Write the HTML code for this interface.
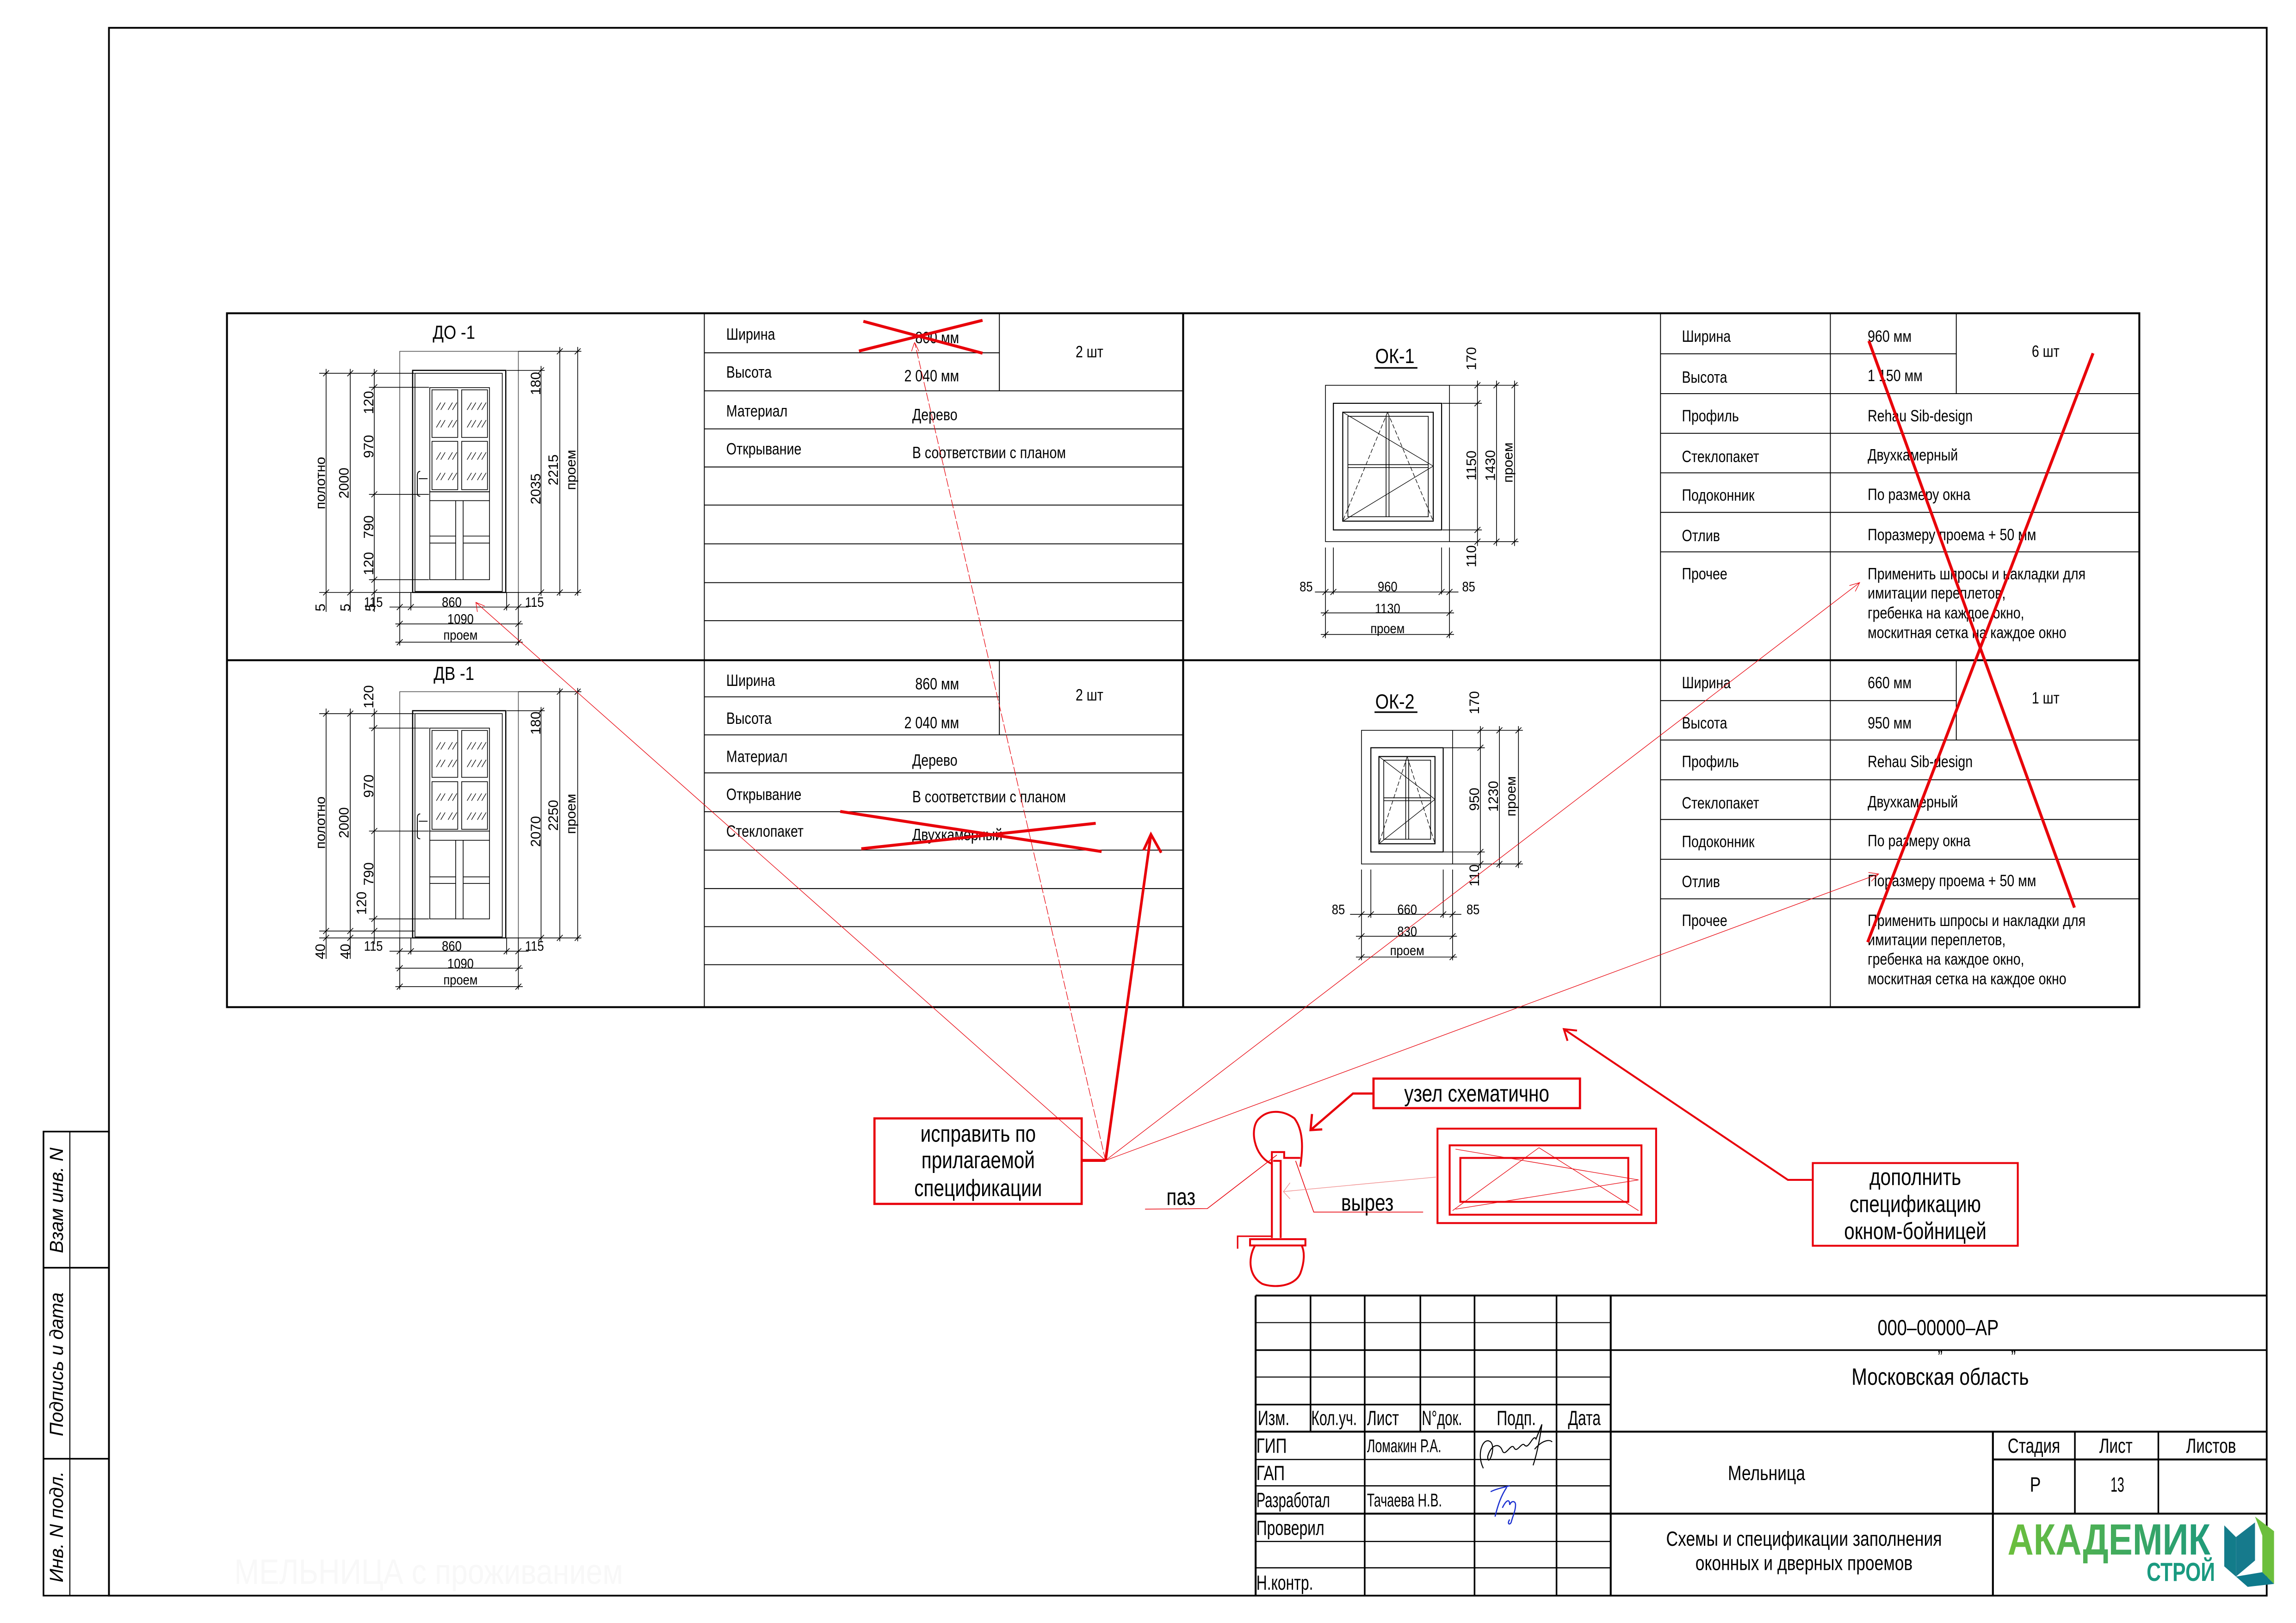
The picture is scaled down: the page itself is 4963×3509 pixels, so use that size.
<!DOCTYPE html>
<html><head><meta charset="utf-8"><style>
html,body{margin:0;padding:0;background:#fff}
svg{display:block}
text{font-family:"Liberation Sans",sans-serif;fill:#000}
.t{font-size:11px}
.d{font-size:9.5px}
.g{font-size:13px}
.a{font-size:15px}
</style></head><body>
<svg width="4963" height="3509" viewBox="0 0 1568 1108.7" preserveAspectRatio="none" xmlns="http://www.w3.org/2000/svg">
<rect x="0" y="0" width="1568" height="1108.7" fill="#fff"/>
<!-- frame -->
<g fill="none" stroke="#000">
<rect x="74.4" y="19" width="1473.6" height="1071" stroke-width="1.2"/>
<rect x="29.7" y="773" width="44.7" height="317" stroke-width="1.1"/>
<line x1="47.7" y1="773" x2="47.7" y2="1090" stroke-width="0.7"/>
<line x1="29.7" y1="866" x2="74.4" y2="866" stroke-width="1.1"/>
<line x1="29.7" y1="996.5" x2="74.4" y2="996.5" stroke-width="1.1"/>
</g>
<g font-style="italic">
<text transform="matrix(0,-1,1,0,43,820)" text-anchor="middle" font-size="13">Взам  инв.  N</text>
<text transform="matrix(0,-1,1,0,43,932)" text-anchor="middle" font-size="13">Подпись  и  дата</text>
<text transform="matrix(0,-1,1,0,43,1043)" text-anchor="middle" font-size="13">Инв.  N  подл.</text>
</g>
<text transform="matrix(0.85,0,0,1,160,1082)" font-size="24" style="fill:#f8f8f8">МЕЛЬНИЦА с проживанием</text>

<!-- main table -->
<g fill="none" stroke="#000">
<rect x="155" y="214" width="1306" height="474" stroke-width="1.3"/>
<line x1="155" y1="451" x2="1461" y2="451" stroke-width="1.3"/>
<line x1="808" y1="214" x2="808" y2="688" stroke-width="1.3"/>
<g stroke-width="0.6">
<line x1="481" y1="214" x2="481" y2="688"/>
<line x1="1134" y1="214" x2="1134" y2="688"/>
<line x1="1250" y1="214" x2="1250" y2="688"/>
<line x1="682.5" y1="214" x2="682.5" y2="267"/>
<line x1="682.5" y1="451" x2="682.5" y2="502"/>
<line x1="1336" y1="214" x2="1336" y2="269"/>
<line x1="1336" y1="451" x2="1336" y2="505.5"/>
<line x1="481" y1="241" x2="682.5" y2="241"/>
<line x1="481" y1="267" x2="808" y2="267"/>
<line x1="481" y1="293" x2="808" y2="293"/>
<line x1="481" y1="319" x2="808" y2="319"/>
<line x1="481" y1="345" x2="808" y2="345"/>
<line x1="481" y1="371.5" x2="808" y2="371.5"/>
<line x1="481" y1="398" x2="808" y2="398"/>
<line x1="481" y1="424" x2="808" y2="424"/>
<line x1="481" y1="476" x2="682.5" y2="476"/>
<line x1="481" y1="502" x2="808" y2="502"/>
<line x1="481" y1="528" x2="808" y2="528"/>
<line x1="481" y1="554.5" x2="808" y2="554.5"/>
<line x1="481" y1="580.7" x2="808" y2="580.7"/>
<line x1="481" y1="607" x2="808" y2="607"/>
<line x1="481" y1="633" x2="808" y2="633"/>
<line x1="481" y1="659" x2="808" y2="659"/>
<line x1="1134" y1="241.7" x2="1336" y2="241.7"/>
<line x1="1134" y1="268.9" x2="1461" y2="268.9"/>
<line x1="1134" y1="296" x2="1461" y2="296"/>
<line x1="1134" y1="323" x2="1461" y2="323"/>
<line x1="1134" y1="350" x2="1461" y2="350"/>
<line x1="1134" y1="377" x2="1461" y2="377"/>
<line x1="1134" y1="478.6" x2="1336" y2="478.6"/>
<line x1="1134" y1="505.5" x2="1461" y2="505.5"/>
<line x1="1134" y1="532.7" x2="1461" y2="532.7"/>
<line x1="1134" y1="559.8" x2="1461" y2="559.8"/>
<line x1="1134" y1="587" x2="1461" y2="587"/>
<line x1="1134" y1="614" x2="1461" y2="614"/>
</g></g>

<!-- left table text -->
<g class="t">
<text transform="matrix(0.82,0,0,1,496,232)">Ширина</text>
<text transform="matrix(0.82,0,0,1,655,234.5)" text-anchor="end">800  мм</text>
<text transform="matrix(0.82,0,0,1,496,258)">Высота</text>
<text transform="matrix(0.82,0,0,1,655,260.5)" text-anchor="end">2 040  мм</text>
<text transform="matrix(0.82,0,0,1,744,244)" text-anchor="middle">2 шт</text>
<text transform="matrix(0.82,0,0,1,496,284.5)">Материал</text>
<text transform="matrix(0.82,0,0,1,623,287)">Дерево</text>
<text transform="matrix(0.82,0,0,1,496,310.5)">Открывание</text>
<text transform="matrix(0.82,0,0,1,623,313)">В соответствии с планом</text>

<text transform="matrix(0.82,0,0,1,496,468.5)">Ширина</text>
<text transform="matrix(0.82,0,0,1,655,471)" text-anchor="end">860  мм</text>
<text transform="matrix(0.82,0,0,1,496,494.5)">Высота</text>
<text transform="matrix(0.82,0,0,1,655,497.5)" text-anchor="end">2 040  мм</text>
<text transform="matrix(0.82,0,0,1,744,478.5)" text-anchor="middle">2 шт</text>
<text transform="matrix(0.82,0,0,1,496,520.5)">Материал</text>
<text transform="matrix(0.82,0,0,1,623,523)">Дерево</text>
<text transform="matrix(0.82,0,0,1,496,546.5)">Открывание</text>
<text transform="matrix(0.82,0,0,1,623,548)">В соответствии с планом</text>
<text transform="matrix(0.82,0,0,1,496,571.5)">Стеклопакет</text>
<text transform="matrix(0.82,0,0,1,623,574)">Двухкамерный</text>
</g>

<!-- right table text -->
<g class="t">
<text transform="matrix(0.82,0,0,1,1148.6,233.5)">Ширина</text>
<text transform="matrix(0.82,0,0,1,1275.5,233.5)">960 мм</text>
<text transform="matrix(0.82,0,0,1,1148.6,261.5)">Высота</text>
<text transform="matrix(0.82,0,0,1,1275.5,260.3)">1 150 мм</text>
<text transform="matrix(0.82,0,0,1,1397,243.7)" text-anchor="middle">6 шт</text>
<text transform="matrix(0.82,0,0,1,1148.6,287.8)">Профиль</text>
<text transform="matrix(0.82,0,0,1,1275.5,287.8)">Rehau Sib-design</text>
<text transform="matrix(0.82,0,0,1,1148.6,315.6)">Стеклопакет</text>
<text transform="matrix(0.82,0,0,1,1275.5,314.6)">Двухкамерный</text>
<text transform="matrix(0.82,0,0,1,1148.6,342.1)">Подоконник</text>
<text transform="matrix(0.82,0,0,1,1275.5,341.6)">По размеру окна</text>
<text transform="matrix(0.82,0,0,1,1148.6,369.6)">Отлив</text>
<text transform="matrix(0.82,0,0,1,1275.5,369)">Поразмеру проема + 50 мм</text>
<text transform="matrix(0.82,0,0,1,1148.6,395.8)">Прочее</text>
<text transform="matrix(0.82,0,0,1,1275.5,395.8)">Применить шпросы и накладки для</text>
<text transform="matrix(0.82,0,0,1,1275.5,408.9)">имитации переплетов,</text>
<text transform="matrix(0.82,0,0,1,1275.5,422.4)">гребенка на каждое окно,</text>
<text transform="matrix(0.82,0,0,1,1275.5,435.8)">москитная сетка на каждое окно</text>

<text transform="matrix(0.82,0,0,1,1148.6,470.2)">Ширина</text>
<text transform="matrix(0.82,0,0,1,1275.5,470.2)">660 мм</text>
<text transform="matrix(0.82,0,0,1,1148.6,497.7)">Высота</text>
<text transform="matrix(0.82,0,0,1,1275.5,497.7)">950 мм</text>
<text transform="matrix(0.82,0,0,1,1397,480.5)" text-anchor="middle">1 шт</text>
<text transform="matrix(0.82,0,0,1,1148.6,524)">Профиль</text>
<text transform="matrix(0.82,0,0,1,1275.5,524)">Rehau Sib-design</text>
<text transform="matrix(0.82,0,0,1,1148.6,552.3)">Стеклопакет</text>
<text transform="matrix(0.82,0,0,1,1275.5,551.5)">Двухкамерный</text>
<text transform="matrix(0.82,0,0,1,1148.6,578.6)">Подоконник</text>
<text transform="matrix(0.82,0,0,1,1275.5,578)">По размеру окна</text>
<text transform="matrix(0.82,0,0,1,1148.6,606)">Отлив</text>
<text transform="matrix(0.82,0,0,1,1275.5,605.4)">Поразмеру проема + 50 мм</text>
<text transform="matrix(0.82,0,0,1,1148.6,632.6)">Прочее</text>
<text transform="matrix(0.82,0,0,1,1275.5,632.6)">Применить шпросы и накладки для</text>
<text transform="matrix(0.82,0,0,1,1275.5,645.7)">имитации переплетов,</text>
<text transform="matrix(0.82,0,0,1,1275.5,659)">гребенка на каждое окно,</text>
<text transform="matrix(0.82,0,0,1,1275.5,672.3)">москитная сетка на каждое окно</text>
</g>

<!-- DOOR ДО-1 -->
<text transform="matrix(0.85,0,0,1,310,231.5)" text-anchor="middle" font-size="13">ДО -1</text>
<g fill="none" stroke="#000" stroke-width="0.5">
<rect x="273" y="240" width="81" height="164.7" stroke="#555"/>
<rect x="281.8" y="253" width="63.6" height="151.7" stroke-width="0.8"/>
<rect x="283.4" y="255" width="59.6" height="149"/>
<rect x="293.5" y="264.8" width="40.8" height="71.1"/>
<rect x="295" y="266.3" width="17.6" height="32.5"/><rect x="315.3" y="266.3" width="17.6" height="32.5"/>
<rect x="295" y="301.5" width="17.6" height="33"/><rect x="315.3" y="301.5" width="17.6" height="33"/>
<rect x="293.5" y="336" width="40.8" height="60"/>
<line x1="293.5" y1="342" x2="334.3" y2="342"/>
<line x1="311.2" y1="342" x2="311.2" y2="396"/><line x1="316.3" y1="342" x2="316.3" y2="396"/>
<line x1="293.5" y1="366.2" x2="311.2" y2="366.2"/><line x1="293.5" y1="371" x2="311.2" y2="371"/>
<line x1="316.3" y1="366.2" x2="334.3" y2="366.2"/><line x1="316.3" y1="371" x2="334.3" y2="371"/>
<path d="M287 322 q-2 0 -2 3 v12 q0 2 2 2 M286 327 h6" stroke-width="0.6"/>
<g stroke-width="0.4">
<path d="M298 280 l3 -5 M301 280 l3 -5 M306 280 l3 -5 M309 280 l3 -5 M319 280 l3 -5 M322 280 l3 -5 M326 280 l3 -5 M329 280 l3 -5 M298 292 l3 -5 M301 292 l3 -5 M306 292 l3 -5 M309 292 l3 -5 M319 292 l3 -5 M322 292 l3 -5 M326 292 l3 -5 M329 292 l3 -5 M298 314 l3 -5 M301 314 l3 -5 M306 314 l3 -5 M309 314 l3 -5 M319 314 l3 -5 M322 314 l3 -5 M326 314 l3 -5 M329 314 l3 -5 M298 328 l3 -5 M301 328 l3 -5 M306 328 l3 -5 M309 328 l3 -5 M319 328 l3 -5 M322 328 l3 -5 M326 328 l3 -5 M329 328 l3 -5"/>
</g>
<line x1="222.7" y1="252" x2="222.7" y2="418"/><line x1="239.2" y1="252" x2="239.2" y2="418"/><line x1="255.6" y1="252" x2="255.6" y2="418"/>
<line x1="218" y1="255" x2="283" y2="255"/><line x1="218" y1="404.7" x2="283" y2="404.7"/>
<line x1="252" y1="264.6" x2="293" y2="264.6"/><line x1="252" y1="337.7" x2="293" y2="337.7"/><line x1="252" y1="396" x2="293" y2="396"/>
<path d="M220.7 257 l4 -4 M237.2 257 l4 -4 M253.6 257 l4 -4 M220.7 406.7 l4 -4 M237.2 406.7 l4 -4 M253.6 406.7 l4 -4 M253.6 266.6 l4 -4 M253.6 339.7 l4 -4 M253.6 398 l4 -4"/>
<line x1="369.5" y1="250" x2="369.5" y2="407"/><line x1="382.3" y1="237" x2="382.3" y2="407"/><line x1="394.5" y1="237" x2="394.5" y2="407"/>
<line x1="354" y1="240" x2="397" y2="240"/><line x1="346" y1="253" x2="372" y2="253"/><line x1="346" y1="404.7" x2="397" y2="404.7"/>
<path d="M367.5 255 l4 -4 M367.5 406.7 l4 -4 M380.3 242 l4 -4 M392.5 242 l4 -4 M380.3 406.7 l4 -4 M392.5 406.7 l4 -4"/>
<line x1="273" y1="404.7" x2="273" y2="441"/><line x1="354" y1="404.7" x2="354" y2="441"/>
<line x1="280.6" y1="404.7" x2="280.6" y2="417"/><line x1="346" y1="404.7" x2="346" y2="417"/>
<line x1="266" y1="414.7" x2="361" y2="414.7"/>
<line x1="270" y1="426.2" x2="357" y2="426.2"/>
<line x1="270" y1="438.7" x2="357" y2="438.7"/>
<path d="M271 416.7 l4 -4 M278.6 416.7 l4 -4 M344 416.7 l4 -4 M352 416.7 l4 -4 M271 428.2 l4 -4 M352 428.2 l4 -4 M271 440.7 l4 -4 M352 440.7 l4 -4"/>
</g>
<g class="d">
<text transform="matrix(0,-1,1,0,222,330)" text-anchor="middle">полотно</text>
<text transform="matrix(0,-1,1,0,238,330)" text-anchor="middle">2000</text>
<text transform="matrix(0,-1,1,0,255,275)" text-anchor="middle">120</text>
<text transform="matrix(0,-1,1,0,255,305)" text-anchor="middle">970</text>
<text transform="matrix(0,-1,1,0,255,360)" text-anchor="middle">790</text>
<text transform="matrix(0,-1,1,0,255,385)" text-anchor="middle">120</text>
<text transform="matrix(0,-1,1,0,369,262)" text-anchor="middle">180</text>
<text transform="matrix(0,-1,1,0,369,334)" text-anchor="middle">2035</text>
<text transform="matrix(0,-1,1,0,381,321)" text-anchor="middle">2215</text>
<text transform="matrix(0,-1,1,0,393,321)" text-anchor="middle">проем</text>
<text transform="matrix(0,-1,1,0,222,415)" text-anchor="middle">5</text>
<text transform="matrix(0,-1,1,0,239,415)" text-anchor="middle">5</text>
<text transform="matrix(0,-1,1,0,256,415)" text-anchor="middle">5</text>
<text transform="matrix(0.85,0,0,1,255,414.5)" text-anchor="middle">115</text>
<text transform="matrix(0.85,0,0,1,308.5,414.5)" text-anchor="middle">860</text>
<text transform="matrix(0.85,0,0,1,365,414.5)" text-anchor="middle">115</text>
<text transform="matrix(0.85,0,0,1,314.5,426)" text-anchor="middle">1090</text>
<text transform="matrix(0.85,0,0,1,314.5,437)" text-anchor="middle">проем</text>
</g>

<!-- DOOR ДВ-1 -->
<text transform="matrix(0.85,0,0,1,310,464.5)" text-anchor="middle" font-size="13">ДВ -1</text>
<g fill="none" stroke="#000" stroke-width="0.5">
<rect x="273" y="472.5" width="81" height="168.2" stroke="#555"/>
<rect x="281.8" y="485.5" width="63.6" height="155.2" stroke-width="0.8"/>
<rect x="283.4" y="487.5" width="59.6" height="152.5"/>
<rect x="293.5" y="497.4" width="40.8" height="70.3"/>
<rect x="295" y="499" width="17.6" height="32"/><rect x="315.3" y="499" width="17.6" height="32"/>
<rect x="295" y="534" width="17.6" height="32.5"/><rect x="315.3" y="534" width="17.6" height="32.5"/>
<rect x="293.5" y="567.7" width="40.8" height="60"/>
<line x1="293.5" y1="574" x2="334.3" y2="574"/>
<line x1="311.2" y1="574" x2="311.2" y2="627.7"/><line x1="316.3" y1="574" x2="316.3" y2="627.7"/>
<line x1="293.5" y1="599" x2="311.2" y2="599"/><line x1="293.5" y1="603.5" x2="311.2" y2="603.5"/>
<line x1="316.3" y1="599" x2="334.3" y2="599"/><line x1="316.3" y1="603.5" x2="334.3" y2="603.5"/>
<path d="M287 556 q-2 0 -2 3 v12 q0 2 2 2 M286 561 h6" stroke-width="0.6"/>
<g stroke-width="0.4">
<path d="M298 512 l3 -5 M301 512 l3 -5 M306 512 l3 -5 M309 512 l3 -5 M319 512 l3 -5 M322 512 l3 -5 M326 512 l3 -5 M329 512 l3 -5 M298 524 l3 -5 M301 524 l3 -5 M306 524 l3 -5 M309 524 l3 -5 M319 524 l3 -5 M322 524 l3 -5 M326 524 l3 -5 M329 524 l3 -5 M298 547 l3 -5 M301 547 l3 -5 M306 547 l3 -5 M309 547 l3 -5 M319 547 l3 -5 M322 547 l3 -5 M326 547 l3 -5 M329 547 l3 -5 M298 560 l3 -5 M301 560 l3 -5 M306 560 l3 -5 M309 560 l3 -5 M319 560 l3 -5 M322 560 l3 -5 M326 560 l3 -5 M329 560 l3 -5"/>
</g>
<line x1="222.7" y1="484" x2="222.7" y2="655"/><line x1="239.2" y1="484" x2="239.2" y2="655"/><line x1="255.6" y1="484" x2="255.6" y2="645"/>
<line x1="218" y1="487.5" x2="283" y2="487.5"/><line x1="218" y1="640.7" x2="283" y2="640.7"/><line x1="218" y1="636" x2="283" y2="636"/>
<line x1="252" y1="497.4" x2="293" y2="497.4"/><line x1="252" y1="567.7" x2="293" y2="567.7"/><line x1="252" y1="627.7" x2="293" y2="627.7"/>
<path d="M220.7 489.5 l4 -4 M237.2 489.5 l4 -4 M253.6 489.5 l4 -4 M220.7 642.7 l4 -4 M237.2 642.7 l4 -4 M220.7 638 l4 -4 M237.2 638 l4 -4 M253.6 499.4 l4 -4 M253.6 569.7 l4 -4 M253.6 629.7 l4 -4 M253.6 638 l4 -4"/>
<line x1="369.5" y1="483" x2="369.5" y2="643"/><line x1="382.3" y1="470" x2="382.3" y2="643"/><line x1="394.5" y1="470" x2="394.5" y2="643"/>
<line x1="354" y1="472.5" x2="397" y2="472.5"/><line x1="346" y1="485.5" x2="372" y2="485.5"/><line x1="346" y1="640.7" x2="397" y2="640.7"/>
<path d="M367.5 487.5 l4 -4 M367.5 642.7 l4 -4 M380.3 474.5 l4 -4 M392.5 474.5 l4 -4 M380.3 642.7 l4 -4 M392.5 642.7 l4 -4"/>
<line x1="273" y1="640.7" x2="273" y2="676"/><line x1="354" y1="640.7" x2="354" y2="676"/>
<line x1="280.6" y1="640.7" x2="280.6" y2="652"/><line x1="346" y1="640.7" x2="346" y2="652"/>
<line x1="266" y1="649.8" x2="361" y2="649.8"/>
<line x1="270" y1="661.4" x2="357" y2="661.4"/>
<line x1="270" y1="674" x2="357" y2="674"/>
<path d="M271 651.8 l4 -4 M278.6 651.8 l4 -4 M344 651.8 l4 -4 M352 651.8 l4 -4 M271 663.4 l4 -4 M352 663.4 l4 -4 M271 676 l4 -4 M352 676 l4 -4"/>
</g>
<g class="d">
<text transform="matrix(0,-1,1,0,222,562)" text-anchor="middle">полотно</text>
<text transform="matrix(0,-1,1,0,238,562)" text-anchor="middle">2000</text>
<text transform="matrix(0,-1,1,0,255,476)" text-anchor="middle">120</text>
<text transform="matrix(0,-1,1,0,255,537)" text-anchor="middle">970</text>
<text transform="matrix(0,-1,1,0,255,597)" text-anchor="middle">790</text>
<text transform="matrix(0,-1,1,0,250,617)" text-anchor="middle">120</text>
<text transform="matrix(0,-1,1,0,369,494)" text-anchor="middle">180</text>
<text transform="matrix(0,-1,1,0,369,568)" text-anchor="middle">2070</text>
<text transform="matrix(0,-1,1,0,381,557)" text-anchor="middle">2250</text>
<text transform="matrix(0,-1,1,0,393,556)" text-anchor="middle">проем</text>
<text transform="matrix(0,-1,1,0,222,650)" text-anchor="middle">40</text>
<text transform="matrix(0,-1,1,0,239,650)" text-anchor="middle">40</text>
<text transform="matrix(0.85,0,0,1,255,649.5)" text-anchor="middle">115</text>
<text transform="matrix(0.85,0,0,1,308.5,649.5)" text-anchor="middle">860</text>
<text transform="matrix(0.85,0,0,1,365,649.5)" text-anchor="middle">115</text>
<text transform="matrix(0.85,0,0,1,314.5,661.5)" text-anchor="middle">1090</text>
<text transform="matrix(0.85,0,0,1,314.5,672.5)" text-anchor="middle">проем</text>
</g>

<!-- WINDOW ОК-1 -->
<text transform="matrix(0.85,0,0,1,952.6,248)" text-anchor="middle" font-size="14">ОК-1</text>
<g fill="none" stroke="#000" stroke-width="0.5">
<line x1="938.7" y1="251.3" x2="968" y2="251.3" stroke-width="1"/>
<rect x="905.2" y="263.2" width="84.7" height="106.8"/>
<rect x="910.6" y="275.5" width="73.9" height="86.5" stroke-width="0.7"/>
<rect x="917" y="281.6" width="61.8" height="74.4" stroke-width="0.7"/>
<rect x="920.5" y="284.4" width="54.9" height="68.6"/>
<line x1="946.6" y1="284.4" x2="946.6" y2="353"/><line x1="948.6" y1="284.4" x2="948.6" y2="353"/>
<line x1="920.5" y1="317.4" x2="975.4" y2="317.4"/><line x1="920.5" y1="319.4" x2="975.4" y2="319.4"/>
<path d="M917 281.6 L978.8 318.4 L917 356" stroke-width="0.4"/>
<path d="M947.6 281.6 L917 356 M947.6 281.6 L978.8 356" stroke-width="0.4" stroke-dasharray="3 1.5"/>
<line x1="1009" y1="260" x2="1009" y2="373"/><line x1="1022" y1="260" x2="1022" y2="373"/><line x1="1034.3" y1="260" x2="1034.3" y2="373"/>
<line x1="990" y1="263.2" x2="1037" y2="263.2"/><line x1="985" y1="275.5" x2="1012" y2="275.5"/><line x1="985" y1="362" x2="1012" y2="362"/><line x1="990" y1="370" x2="1037" y2="370"/>
<path d="M1007 265.2 l4 -4 M1020 265.2 l4 -4 M1032.3 265.2 l4 -4 M1007 277.5 l4 -4 M1007 364 l4 -4 M1007 372 l4 -4 M1020 372 l4 -4 M1032.3 372 l4 -4"/>
<line x1="905.2" y1="374" x2="905.2" y2="436"/><line x1="910.6" y1="374" x2="910.6" y2="406"/><line x1="984.5" y1="374" x2="984.5" y2="406"/><line x1="989.9" y1="374" x2="989.9" y2="436"/>
<line x1="898" y1="404.4" x2="996" y2="404.4"/>
<line x1="902" y1="418.7" x2="993" y2="418.7"/>
<line x1="902" y1="433.4" x2="993" y2="433.4"/>
<path d="M903.2 406.4 l4 -4 M908.6 406.4 l4 -4 M982.5 406.4 l4 -4 M987.9 406.4 l4 -4 M903.2 420.7 l4 -4 M987.9 420.7 l4 -4 M903.2 435.4 l4 -4 M987.9 435.4 l4 -4"/>
</g>
<g class="d">
<text transform="matrix(0,-1,1,0,1008,245)" text-anchor="middle">170</text>
<text transform="matrix(0,-1,1,0,1008,318)" text-anchor="middle">1150</text>
<text transform="matrix(0,-1,1,0,1021,318)" text-anchor="middle">1430</text>
<text transform="matrix(0,-1,1,0,1033,316)" text-anchor="middle">проем</text>
<text transform="matrix(0,-1,1,0,1008,380)" text-anchor="middle">110</text>
<text transform="matrix(0.85,0,0,1,892,404)" text-anchor="middle">85</text>
<text transform="matrix(0.85,0,0,1,947.6,404)" text-anchor="middle">960</text>
<text transform="matrix(0.85,0,0,1,1003,404)" text-anchor="middle">85</text>
<text transform="matrix(0.85,0,0,1,947.6,419)" text-anchor="middle">1130</text>
<text transform="matrix(0.85,0,0,1,947.6,432.5)" text-anchor="middle">проем</text>
</g>

<!-- WINDOW ОК-2 -->
<text transform="matrix(0.85,0,0,1,952.6,484)" text-anchor="middle" font-size="14">ОК-2</text>
<g fill="none" stroke="#000" stroke-width="0.5">
<line x1="938.7" y1="486.5" x2="968" y2="486.5" stroke-width="1"/>
<rect x="929.8" y="498.9" width="62.2" height="91.3"/>
<rect x="936.2" y="510.8" width="49.4" height="71.2" stroke-width="0.7"/>
<rect x="941.7" y="516.8" width="38.3" height="59.6" stroke-width="0.7"/>
<rect x="945" y="519.3" width="32" height="54"/>
<line x1="960" y1="519.3" x2="960" y2="573.3"/><line x1="962" y1="519.3" x2="962" y2="573.3"/>
<line x1="945" y1="545" x2="977" y2="545"/><line x1="945" y1="547" x2="977" y2="547"/>
<path d="M941.7 516.8 L980 546 L941.7 576.4" stroke-width="0.4"/>
<path d="M961 516.8 L941.7 576.4 M961 516.8 L980 576.4" stroke-width="0.4" stroke-dasharray="3 1.5"/>
<line x1="1011" y1="496" x2="1011" y2="593"/><line x1="1024" y1="496" x2="1024" y2="593"/><line x1="1037" y1="496" x2="1037" y2="593"/>
<line x1="992" y1="498.9" x2="1040" y2="498.9"/><line x1="986" y1="510.8" x2="1014" y2="510.8"/><line x1="986" y1="582" x2="1014" y2="582"/><line x1="992" y1="590.2" x2="1040" y2="590.2"/>
<path d="M1009 500.9 l4 -4 M1022 500.9 l4 -4 M1035 500.9 l4 -4 M1009 512.8 l4 -4 M1009 584 l4 -4 M1009 592.2 l4 -4 M1022 592.2 l4 -4 M1035 592.2 l4 -4"/>
<line x1="929.8" y1="594" x2="929.8" y2="656"/><line x1="936.2" y1="594" x2="936.2" y2="627"/><line x1="985.6" y1="594" x2="985.6" y2="627"/><line x1="992" y1="594" x2="992" y2="656"/>
<line x1="922" y1="624.6" x2="998" y2="624.6"/>
<line x1="926" y1="639.6" x2="995" y2="639.6"/>
<line x1="926" y1="653.8" x2="995" y2="653.8"/>
<path d="M927.8 626.6 l4 -4 M934.2 626.6 l4 -4 M983.6 626.6 l4 -4 M990 626.6 l4 -4 M927.8 641.6 l4 -4 M990 641.6 l4 -4 M927.8 655.8 l4 -4 M990 655.8 l4 -4"/>
</g>
<g class="d">
<text transform="matrix(0,-1,1,0,1010,480)" text-anchor="middle">170</text>
<text transform="matrix(0,-1,1,0,1010,546)" text-anchor="middle">950</text>
<text transform="matrix(0,-1,1,0,1023,544)" text-anchor="middle">1230</text>
<text transform="matrix(0,-1,1,0,1035,544)" text-anchor="middle">проем</text>
<text transform="matrix(0,-1,1,0,1010,598)" text-anchor="middle">110</text>
<text transform="matrix(0.85,0,0,1,914,624.5)" text-anchor="middle">85</text>
<text transform="matrix(0.85,0,0,1,961,624.5)" text-anchor="middle">660</text>
<text transform="matrix(0.85,0,0,1,1006,624.5)" text-anchor="middle">85</text>
<text transform="matrix(0.85,0,0,1,961,639.5)" text-anchor="middle">830</text>
<text transform="matrix(0.85,0,0,1,961,652.5)" text-anchor="middle">проем</text>
</g>

<!-- TITLE BLOCK -->
<g fill="none" stroke="#000" stroke-width="1.1">
<line x1="857.5" y1="885" x2="1548" y2="885" stroke-width="1.3"/>
<line x1="857.5" y1="885" x2="857.5" y2="1090" stroke-width="1.3"/>
<line x1="895" y1="885" x2="895" y2="978"/>
<line x1="970" y1="885" x2="970" y2="978"/>
<line x1="932" y1="885" x2="932" y2="1090"/>
<line x1="1007" y1="885" x2="1007" y2="1090"/>
<line x1="1063" y1="885" x2="1063" y2="1090"/>
<line x1="1100" y1="885" x2="1100" y2="1090" stroke-width="1.3"/>
<line x1="857.5" y1="903.5" x2="1100" y2="903.5" stroke-width="0.7"/>
<line x1="857.5" y1="922.3" x2="1548" y2="922.3"/>
<line x1="857.5" y1="940.7" x2="1100" y2="940.7" stroke-width="0.7"/>
<line x1="857.5" y1="959.5" x2="1100" y2="959.5"/>
<line x1="857.5" y1="978" x2="1548" y2="978" stroke-width="1.3"/>
<line x1="857.5" y1="997" x2="1100" y2="997" stroke-width="0.8"/>
<line x1="857.5" y1="1015" x2="1100" y2="1015" stroke-width="0.8"/>
<line x1="857.5" y1="1034" x2="1548" y2="1034" stroke-width="1.3"/>
<line x1="857.5" y1="1053" x2="1100" y2="1053" stroke-width="0.8"/>
<line x1="857.5" y1="1071" x2="1100" y2="1071" stroke-width="0.8"/>
<line x1="1361" y1="997" x2="1548" y2="997" stroke-width="1.3"/>
<line x1="1361" y1="978" x2="1361" y2="1090" stroke-width="1.3"/>
<line x1="1417" y1="978" x2="1417" y2="1034"/>
<line x1="1474" y1="978" x2="1474" y2="1034"/>
</g>
<g class="g">
<text transform="matrix(0.8,0,0,1,1323.6,912)" text-anchor="middle" font-size="15">000–00000–АР</text>
<text transform="matrix(0.8,0,0,1,1325,931)" text-anchor="middle" font-size="12">”</text>
<text transform="matrix(0.8,0,0,1,1375,931)" text-anchor="middle" font-size="12">”</text>
<text transform="matrix(0.8,0,0,1,1325,946)" text-anchor="middle" font-size="16">Московская область</text>
<text transform="matrix(0.72,0,0,1,859,973.5)" font-size="14">Изм.</text>
<text transform="matrix(0.68,0,0,1,895.5,973.5)" font-size="14">Кол.уч.</text>
<text transform="matrix(0.72,0,0,1,933.5,973.5)" font-size="14">Лист</text>
<text transform="matrix(0.66,0,0,1,971,973.5)" font-size="14">N°док.</text>
<text transform="matrix(0.72,0,0,1,1035.5,973.5)" text-anchor="middle" font-size="14">Подп.</text>
<text transform="matrix(0.72,0,0,1,1082,973.5)" text-anchor="middle" font-size="14">Дата</text>
<text transform="matrix(0.75,0,0,1,858,992.5)" font-size="14">ГИП</text>
<text transform="matrix(0.68,0,0,1,933.5,992)" font-size="12.5">Ломакин  Р.А.</text>
<text transform="matrix(0.75,0,0,1,858,1011)" font-size="14">ГАП</text>
<text transform="matrix(0.66,0,0,1,858,1029.5)" font-size="14">Разработал</text>
<text transform="matrix(0.68,0,0,1,933.5,1029)" font-size="12.5">Тачаева  Н.В.</text>
<text transform="matrix(0.72,0,0,1,858,1048.5)" font-size="14">Проверил</text>
<text transform="matrix(0.72,0,0,1,858,1086)" font-size="14">Н.контр.</text>
<text transform="matrix(0.8,0,0,1,1206.4,1011)" text-anchor="middle" font-size="14">Мельница</text>
<text transform="matrix(0.75,0,0,1,1389,992.5)" text-anchor="middle" font-size="14">Стадия</text>
<text transform="matrix(0.75,0,0,1,1445,992.5)" text-anchor="middle" font-size="14">Лист</text>
<text transform="matrix(0.75,0,0,1,1510,992.5)" text-anchor="middle" font-size="14">Листов</text>
<text transform="matrix(0.8,0,0,1,1390,1019)" text-anchor="middle" font-size="14">Р</text>
<text transform="matrix(0.6,0,0,1,1446,1019)" text-anchor="middle" font-size="14">13</text>
<text transform="matrix(0.8,0,0,1,1232,1056)" text-anchor="middle" font-size="14">Схемы  и  спецификации  заполнения</text>
<text transform="matrix(0.8,0,0,1,1232,1072.5)" text-anchor="middle" font-size="14">оконных  и  дверных  проемов</text>
</g>
<!-- logo -->
<defs><linearGradient id="lg" x1="0" x2="1" y1="0" y2="0"><stop offset="0" stop-color="#6cbf3c"/><stop offset="1" stop-color="#1f9a7a"/></linearGradient></defs>
<text transform="matrix(0.82,0,0,1,1371,1062)" font-size="30" font-weight="bold" style="fill:url(#lg)">АКАДЕМИК</text>
<text transform="matrix(0.75,0,0,1,1466,1080)" font-size="18" font-weight="bold" style="fill:#1a9a80">СТРОЙ</text>
<path d="M1519 1042 L1527 1050 L1527 1077 L1519 1070 Z" fill="#137c8a"/>
<path d="M1527 1050 L1540 1040 L1540 1066 L1527 1077 Z" fill="#167a8c"/>
<path d="M1540 1036 L1553 1046 L1553 1082 L1545 1074 L1545 1049 Z" fill="#6cbf3c"/>
<path d="M1519 1070 L1527 1077 L1545 1074 L1553 1082 L1535 1084 Z" fill="#0f7a8c"/>
<!-- signatures -->
<path d="M1013 1003 c-5 -10 0 -22 5 -18 c4 4 -2 18 -2 10 c2 -8 8 -10 10 -4 c2 5 6 -6 8 -2 c2 4 5 -4 7 -2 c3 4 6 -8 8 -4 l4 -10 c-2 14 -4 22 -6 28 M1048 990 c5 -6 10 -7 12 -5" fill="none" stroke="#000" stroke-width="0.7"/>
<path d="M1021 1036 c2 -8 4 -14 8 -20 M1018 1019 c4 -2 9 -3 13 -4 M1026 1030 c3 -6 5 -6 5 -2 c1 -3 4 -3 4 0 c0 4 -2 8 -3 12 c-1 2 -3 1 -1 -2" fill="none" stroke="#1a2fd0" stroke-width="0.8"/>

<!-- RED ANNOTATIONS -->
<g fill="none" stroke="#e8000a">
<g stroke-width="2">
<line x1="589.6" y1="219.5" x2="671" y2="241.3"/>
<line x1="586.6" y1="239.8" x2="671" y2="218.8"/>
<line x1="573.8" y1="554.3" x2="752.3" y2="581.7"/>
<line x1="588.2" y1="579.8" x2="748.3" y2="562.4"/>
<line x1="1276.3" y1="232.9" x2="1416.7" y2="620"/>
<line x1="1429.4" y1="241.3" x2="1275.5" y2="643.6"/>
</g>
<line x1="738.7" y1="792.7" x2="755" y2="792.7" stroke-width="2"/>
<path d="M755 792.7 L786 570 M781 580.8 L786 570 L793 582.5" stroke-width="1.8"/>
<path d="M755 792.7 L325 411.5 M326 418 L325 411.5 L331 414" stroke-width="0.4"/>
<path d="M755 792.7 L624.6 233.7 M622.5 240 L624.6 233.7 L627.5 240" stroke-width="0.4" stroke-dasharray="6 1.5"/>
<path d="M755 792.7 L1270 398 M1263 400 L1270 398 L1267 404" stroke-width="0.4"/>
<path d="M755 792.7 L1283 597 M1276 596 L1283 597 L1278 602" stroke-width="0.4"/>
<rect x="597.2" y="764" width="141.5" height="58.4" stroke-width="1.5"/>
<rect x="938" y="736.8" width="141" height="20.2" stroke-width="1.5"/>
<path d="M938 747 L924 747 L895 772 M896 761 L895 772 L903 771.5" stroke-width="1.5"/>
<path d="M868.6 795 C856 790 853 770 860 764 C866 758 876 758 884 764 C890 772 890 784 888 797" stroke-width="1.3"/>
<path d="M868.6 845.7 L868.6 787 L877 787 L877 791 L888 791 M874.6 845.7 L874.6 793 L869.5 793" stroke-width="1.3"/>
<rect x="853.7" y="846.5" width="37.8" height="4.3" stroke-width="1.3"/>
<path d="M845.2 853 L845.2 844.5 L868 844.5" stroke-width="1"/>
<path d="M857 851 C852 860 853 872 862 877 C870 880 884 879 888 870 C891 862 891 855 889 851" stroke-width="1.3"/>
<text transform="matrix(0.8,0,0,1,806.5,823)" text-anchor="middle" font-size="16" stroke="none">паз</text>
<path d="M782 826 L824.5 825.6 L872 789" stroke-width="0.5"/>
<text transform="matrix(0.8,0,0,1,933.8,827)" text-anchor="middle" font-size="16" stroke="none">вырез</text>
<path d="M971.9 828 L897.2 828 L884.8 793" stroke-width="0.5"/>
<rect x="981.7" y="771" width="149.3" height="64.5" stroke-width="1.3"/>
<rect x="990" y="782.4" width="131" height="47.4" stroke-width="1.3"/>
<rect x="997.3" y="791" width="114.7" height="30" stroke-width="1.3"/>
<path d="M994 785 L1119 806 L994 826 M1051 784 L992 827 M1051 784 L1119 827" stroke-width="0.4"/>
<path d="M981.5 804 L876.5 814 M881 808 L876.5 814 L881 819" stroke="#f08888" stroke-width="0.4"/>
<rect x="1238" y="794.5" width="140" height="56.5" stroke-width="1.3"/>
<path d="M1238 806 L1221 806 L1068 703 M1070.5 711 L1068 703 L1077 704" stroke-width="1.3"/>
</g>
<g font-size="16">
<text transform="matrix(0.8,0,0,1,668,780)" text-anchor="middle">исправить по</text>
<text transform="matrix(0.8,0,0,1,668,798)" text-anchor="middle">прилагаемой</text>
<text transform="matrix(0.8,0,0,1,668,817)" text-anchor="middle">спецификации</text>
<text transform="matrix(0.8,0,0,1,1008.5,752.5)" text-anchor="middle">узел схематично</text>
<text transform="matrix(0.8,0,0,1,1308,809.5)" text-anchor="middle">дополнить</text>
<text transform="matrix(0.8,0,0,1,1308,828)" text-anchor="middle">спецификацию</text>
<text transform="matrix(0.8,0,0,1,1308,846.5)" text-anchor="middle">окном-бойницей</text>
</g>
</svg>
</body></html>
